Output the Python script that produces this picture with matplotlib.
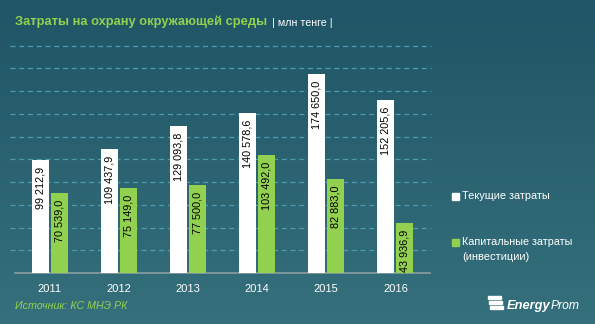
import numpy as np
import matplotlib
matplotlib.use("Agg")
import matplotlib.pyplot as plt
from matplotlib.patches import Rectangle

years = ["2011", "2012", "2013", "2014", "2015", "2016"]
current = [99212.9, 109437.9, 129093.8, 140578.6, 174650.0, 152205.6]
capital = [70539.0, 75149.0, 77500.0, 103492.0, 82883.0, 43936.9]
labels_current = ["99 212,9", "109 437,9", "129 093,8", "140 578,6", "174 650,0", "152 205,6"]
labels_capital = ["70 539,0", "75 149,0", "77 500,0", "103 492,0", "82 883,0", "43 936,9"]

GREEN = "#92d050"
W, H = 595, 324

plt.rcParams['font.family'] = ['Liberation Sans', 'DejaVu Sans']

fig = plt.figure(figsize=(W / 100, H / 100), dpi=100)
renderer = fig.canvas.get_renderer()


def fit(txt, px):
    # scale font size so the text is about px wide
    bb = txt.get_window_extent(renderer)
    txt.set_fontsize(txt.get_fontsize() * px / bb.width)
    return txt


# background gradient
bg = fig.add_axes([0, 0, 1, 1], zorder=-10)
grad = np.linspace(0, 1, 256).reshape(-1, 1)
top = np.array([0x1f, 0x55, 0x66]) / 255
bot = np.array([0x36, 0x70, 0x7c]) / 255
img = top + (bot - top) * grad[..., None]
img = np.repeat(img, 2, axis=1)
bg.imshow(img, aspect="auto", extent=[0, 1, 0, 1], origin="upper")
bg.set_axis_off()

# plot area
x0, x1 = 15, 430
y_top, y_base = 45.5, 273
ax = fig.add_axes([x0 / W, 1 - y_base / H, (x1 - x0) / W, (y_base - y_top) / H])
ax.patch.set_alpha(0)
ax.set_xlim(-0.5, len(years) - 0.5)
ax.set_ylim(0, 200000)

x = np.arange(len(years))
bw = 0.245
gap = 0.015
ax.bar(x - bw / 2 - gap, current, bw, color="white", zorder=3)
ax.bar(x + bw / 2 + gap, capital, bw, color=GREEN, zorder=3)

for i in range(len(years)):
    ax.text(x[i] - bw / 2 - gap, current[i] - 6000, labels_current[i], rotation=90,
            ha="center", va="top", fontsize=7.8, color="black", zorder=4)
    ax.text(x[i] + bw / 2 + gap, capital[i] - 6000, labels_capital[i], rotation=90,
            ha="center", va="top", fontsize=7.8, color="black", zorder=4)

# dashed gridlines, starting a little left of the plot area
grid_vals = np.arange(20000, 200001, 20000)
ax.hlines(grid_vals, -0.57, len(years) - 0.48, colors="#4e9ab0",
          linestyles=(0, (4, 3)), linewidth=0.9, zorder=0, clip_on=False)
ax.set_yticks([])
ax.set_xticks(x)
ax.set_xticklabels(years, color="white", fontsize=8)
ax.tick_params(axis="x", length=0, pad=8)
for s in ["top", "right", "left"]:
    ax.spines[s].set_visible(False)
ax.spines["bottom"].set_color("#8c9ea3")
ax.spines["bottom"].set_linewidth(1.2)

# title
fit(fig.text(15 / W, 1 - 22 / H, "Затраты на охрану окружающей среды", color=GREEN,
             fontsize=10, fontweight="bold", va="center", ha="left"), 253)
fit(fig.text(272 / W, 1 - 23 / H, "| млн тенге |", color="white", fontsize=7,
             va="center", ha="left"), 60)

# legend
fig.patches.append(Rectangle((452 / W, 1 - 200 / H), 7 / W, 7 / H, color="white",
                             transform=fig.transFigure))
fit(fig.text(462 / W, 1 - 196 / H, "Текущие затраты", color="white", fontsize=9,
             va="center", ha="left"), 88)
fig.patches.append(Rectangle((452 / W, 1 - 246 / H), 7 / W, 7 / H, color=GREEN,
                             transform=fig.transFigure))
fit(fig.text(462 / W, 1 - 242 / H, "Капитальные затраты", color="white", fontsize=9,
             va="center", ha="left"), 110)
fit(fig.text(462 / W, 1 - 257 / H, "(инвестиции)", color="white", fontsize=9,
             va="center", ha="left"), 67)

# source and logo
fit(fig.text(15 / W, 1 - 306 / H, "Источник: КС МНЭ РК", color=GREEN, fontsize=8,
             style="italic", va="center", ha="left"), 113)
for k in range(3):
    fig.patches.append(Rectangle(((488 + k * 0.8) / W, 1 - (299 + k * 5) / H), 13 / W, 3 / H,
                                 color="white", transform=fig.transFigure))
e = fit(fig.text(507 / W, 1 - 306 / H, "Energy", color="white", fontsize=9.5,
                 style="italic", fontweight="bold", va="center", ha="left"), 44)
e_right = e.get_window_extent(renderer).x1
fit(fig.text(e_right / W, 1 - 306 / H, "Prom", color="white", fontsize=9.5,
             style="italic", va="center", ha="left"), 29)

fig.savefig("out.png", dpi=100)
